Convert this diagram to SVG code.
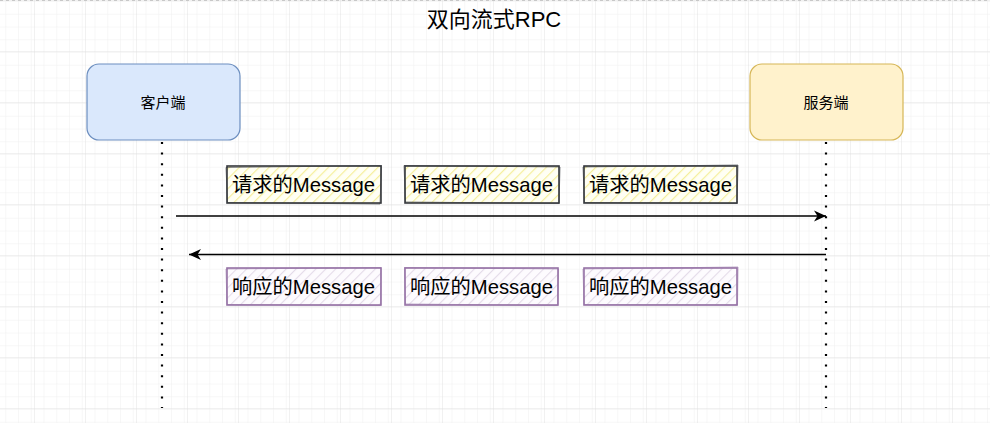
<svg xmlns="http://www.w3.org/2000/svg" width="990" height="423" viewBox="0 0 990 423">
<style>
  text { font-family: "Liberation Sans", "Noto Sans CJK SC", sans-serif; fill: #000; }
  .title { font-size: 22px; text-anchor: middle; }
  .node { font-size: 15px; text-anchor: middle; }
  .msg { font-size: 20.3px; text-anchor: middle; }
  .life { stroke: #000; stroke-width: 2.2; stroke-dasharray: 2 8.6; fill: none; }
  .arrow { stroke: #000; stroke-width: 1.3; fill: none; }
  .req { fill: url(#hatchY); stroke: #36393d; stroke-width: 1.6; }
  .req2 { fill: none; stroke: #36393d; stroke-width: 1; opacity: 0.6; }
  .resp { fill: url(#hatchP); stroke: #9673a6; stroke-width: 1.6; }
  .resp2 { fill: none; stroke: #9673a6; stroke-width: 1; opacity: 0.6; }
</style>
<defs>
  <pattern id="gridMinor" width="12.75" height="12.75" patternUnits="userSpaceOnUse" x="35" y="1">
    <path d="M12.75 0 V12.75 M0 12.75 H12.75" fill="none" stroke="#f0f0f0" stroke-width="1"/>
  </pattern>
  <pattern id="gridMajor" width="51" height="51" patternUnits="userSpaceOnUse" x="35" y="1">
    <rect width="51" height="51" fill="url(#gridMinor)"/>
    <path d="M51 0 V51 M0 51 H51" fill="none" stroke="#e2e2e2" stroke-width="1"/>
  </pattern>
  <pattern id="hatchY" width="7" height="7" patternUnits="userSpaceOnUse" patternTransform="rotate(45)">
    <rect width="7" height="7" fill="#fffff4"/>
    <line x1="0" y1="0" x2="0" y2="7" stroke="#f5ef9a" stroke-width="2.4"/>
  </pattern>
  <pattern id="hatchP" width="7" height="7" patternUnits="userSpaceOnUse" patternTransform="rotate(45)">
    <rect width="7" height="7" fill="#fdfbfe"/>
    <line x1="0" y1="0" x2="0" y2="7" stroke="#e4dbe9" stroke-width="2.2"/>
  </pattern>
  <marker id="arrowHead" markerWidth="14" markerHeight="12" refX="12" refY="6" orient="auto" markerUnits="userSpaceOnUse">
    <path d="M0,0.5 L12,6 L0,11.5 L3.5,6 Z" fill="#000"/>
  </marker>
</defs>

<rect width="990" height="423" fill="#ffffff"/>
<rect width="990" height="423" fill="url(#gridMajor)"/>
<line x1="0" y1="0.5" x2="990" y2="0.5" stroke="#c8c8c8" stroke-dasharray="3 3"/>

<text class="title" x="494" y="27">双向流式RPC</text>

<g id="connectors">
  <line class="life" x1="162" y1="142" x2="162" y2="408"/>
  <line class="life" x1="826" y1="142" x2="826" y2="408"/>
  <line id="request-arrow" class="arrow" x1="176" y1="216" x2="826" y2="216" marker-end="url(#arrowHead)"/>
  <line id="response-arrow" class="arrow" x1="826" y1="254.5" x2="189" y2="254.5" marker-end="url(#arrowHead)"/>
</g>

<g id="client">
  <rect x="87" y="64" width="153" height="76" rx="12" ry="12" fill="#dae8fc" stroke="#6c8ebf" stroke-width="1.2"/>
  <text class="node" x="163" y="107.5">客户端</text>
</g>

<g id="server">
  <rect x="750" y="64" width="153" height="76" rx="12" ry="12" fill="#fff2cc" stroke="#d6b656" stroke-width="1.2"/>
  <text class="node" x="826" y="107.5">服务端</text>
</g>

<g id="req1">
  <rect class="req" x="227" y="166" width="154" height="37"/>
  <path class="req2" d="M226 167.5 L381.5 165.5 L380 204 L227.5 202.5 Z"/>
  <text class="msg" x="303.5" y="192">请求的Message</text>
</g>
<g id="req2">
  <rect class="req" x="405" y="166" width="154" height="37"/>
  <path class="req2" d="M404 165.5 L560 167 L559 203.5 L405.5 202 Z"/>
  <text class="msg" x="481.5" y="192">请求的Message</text>
</g>
<g id="req3">
  <rect class="req" x="584" y="166" width="153" height="37"/>
  <path class="req2" d="M583 167 L738 165 L737 203.5 L584.5 202.5 Z"/>
  <text class="msg" x="660.5" y="192">请求的Message</text>
</g>

<g id="resp1">
  <rect class="resp" x="227" y="268" width="154" height="37"/>
  <path class="resp2" d="M226 269 L381 267.5 L380.5 305.5 L227 304.5 Z"/>
  <text class="msg" x="303.5" y="294">响应的Message</text>
</g>
<g id="resp2">
  <rect class="resp" x="405" y="268" width="153" height="37"/>
  <path class="resp2" d="M404.5 267.5 L558.5 269 L557.5 305.5 L405.5 304 Z"/>
  <text class="msg" x="481.5" y="294">响应的Message</text>
</g>
<g id="resp3">
  <rect class="resp" x="584" y="268" width="153" height="37"/>
  <path class="resp2" d="M583 269 L738 267 L737.5 305 L584 304.5 Z"/>
  <text class="msg" x="660.5" y="294">响应的Message</text>
</g>
</svg>
